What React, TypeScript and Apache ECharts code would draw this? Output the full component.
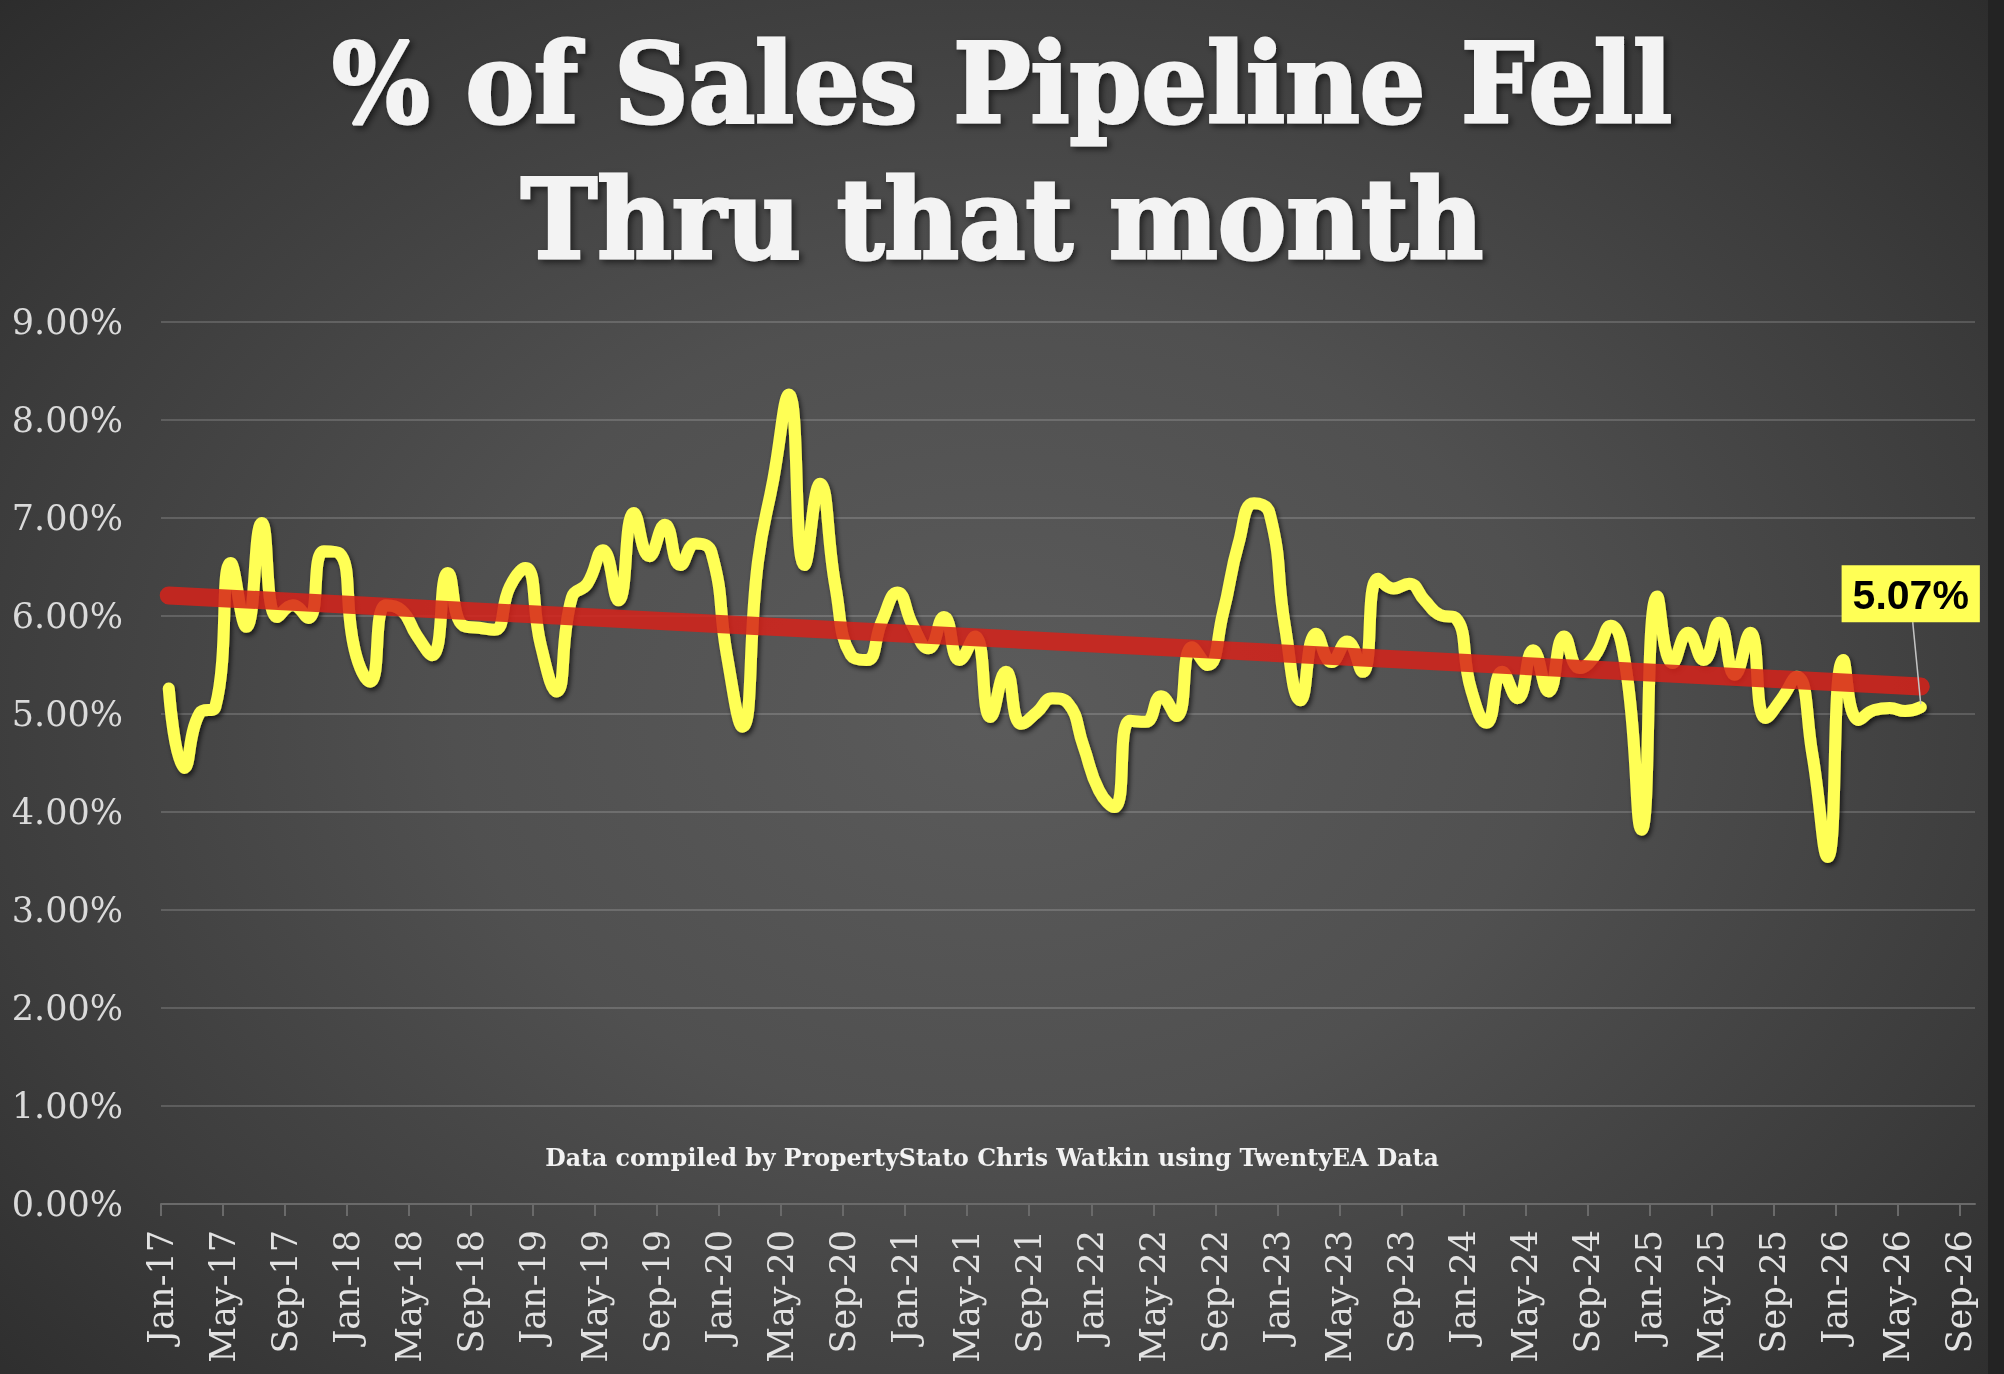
import { useEffect, useRef } from 'react';
import * as echarts from 'echarts';

// % of sales pipeline that fell through, one value per month, Jan-17 .. Jun-26
const pipelineFell: number[] = [
  5.26, 4.45, 5.01, 5.07, 6.54, 5.89, 6.95, 5.99, 6.11, 5.98, 6.66, 6.64, // 2017
  5.65, 5.33, 6.11, 6.06, 5.8, 5.6, 6.44, 5.9, 5.88, 5.86, 6.3, 6.49, // 2018
  5.7, 5.23, 6.19, 6.33, 6.67, 6.16, 7.05, 6.61, 6.93, 6.52, 6.74, 6.65, // 2019
  5.6, 4.87, 6.55, 7.4, 8.26, 6.52, 7.35, 6.3, 5.6, 5.55, 5.95, 6.24, // 2020
  5.9, 5.67, 5.99, 5.55, 5.79, 4.97, 5.43, 4.9, 5.02, 5.16, 5.11, 4.67, // 2021
  4.22, 4.05, 4.93, 4.92, 5.18, 4.98, 5.68, 5.5, 6.03, 6.74, 7.15, 7.05, // 2022
  5.89, 5.14, 5.82, 5.53, 5.74, 5.43, 6.38, 6.28, 6.33, 6.16, 6.01, 5.98, // 2023
  5.25, 4.91, 5.43, 5.16, 5.65, 5.23, 5.79, 5.47, 5.6, 5.9, 5.45, 3.82, // 2024
  6.2, 5.52, 5.83, 5.55, 5.93, 5.4, 5.83, 4.96, 5.15, 5.38, 4.6, 3.54, // 2025
  5.55, 4.94, 5.04, 5.06, 5.03, 5.07, // 2026
];

// linear trend, value at the first and at the last month
const trendValues: number[] = [6.21, 5.28];

// x axis ticks, one every 4 months from Jan-17
const xTickLabels: string[] = [
  'Jan-17', 'May-17', 'Sep-17', 'Jan-18', 'May-18', 'Sep-18',
  'Jan-19', 'May-19', 'Sep-19', 'Jan-20', 'May-20', 'Sep-20',
  'Jan-21', 'May-21', 'Sep-21', 'Jan-22', 'May-22', 'Sep-22',
  'Jan-23', 'May-23', 'Sep-23', 'Jan-24', 'May-24', 'Sep-24',
  'Jan-25', 'May-25', 'Sep-25', 'Jan-26', 'May-26', 'Sep-26',
];

const titleLines: string[] = ['% of Sales Pipeline Fell', 'Thru that month'];
const sourceNote = 'Data compiled by PropertyStato Chris Watkin using TwentyEA Data';

const SERIF = "'DejaVu Serif', serif";
const LABEL_DX = -10;
const LABEL_DY = -85;

export default function App() {
  const chartRef = useRef<HTMLDivElement>(null);

  useEffect(() => {
    if (!chartRef.current) return;
    const chart = echarts.init(chartRef.current, undefined, { renderer: 'svg' });

    // each month sits in the middle of its slot on the date axis
    const points = pipelineFell.map((v, i) => [i + 0.5, v]);
    const last = points[points.length - 1];
    const tickValues = xTickLabels.map((_, i) => i * 4);

    const graphics: any[] = [
      {
        type: 'rect',
        shape: { x: 1988, y: 0, width: 16, height: 1374 },
        style: { fill: '#232323' },
        silent: true,
      },
      ...titleLines.map((t, i) => ({
        type: 'text',
        x: 1002,
        y: 83 + i * 136,
        scaleX: 0.935,
        style: {
          text: t,
          fill: '#f3f3f3',
          stroke: '#f3f3f3',
          lineWidth: 3,
          fontFamily: SERIF,
          fontWeight: 'bold',
          fontSize: 110,
          align: 'center',
          verticalAlign: 'middle',
          textShadowColor: 'rgba(0,0,0,0.55)',
          textShadowBlur: 6,
          textShadowOffsetX: 3,
          textShadowOffsetY: 3,
        },
      })),
      {
        type: 'text',
        x: 992,
        y: 1158,
        style: {
          text: sourceNote,
          fill: '#f2f2f2',
          fontFamily: SERIF,
          fontWeight: 'bold',
          fontSize: 23.7,
          align: 'center',
          verticalAlign: 'middle',
        },
      },
    ];

    chart.setOption({
      animation: false,
      backgroundColor: 'transparent',
      grid: { left: 161, right: 29, top: 322, bottom: 170, containLabel: false },
      xAxis: {
        type: 'value',
        min: 0,
        max: 117,
        splitLine: { show: false },
        axisLine: { show: true, lineStyle: { color: '#6a6a6a', width: 2 } },
        axisTick: { show: true, length: 12, customValues: tickValues, lineStyle: { color: '#6a6a6a', width: 2 } },
        axisLabel: {
          customValues: tickValues,
          rotate: 90,
          margin: 26,
          padding: [16, 0, 0, 0],
          color: '#e2e2e2',
          fontFamily: SERIF,
          fontSize: 35,
          formatter: (v: number) => xTickLabels[Math.round(v / 4)] ?? '',
        },
      },
      yAxis: {
        type: 'value',
        min: 0,
        max: 9,
        interval: 1,
        axisLine: { show: false },
        axisTick: { show: false },
        splitLine: { lineStyle: { color: 'rgba(255,255,255,0.16)', width: 2 } },
        axisLabel: {
          margin: 38,
          color: '#dadada',
          fontFamily: SERIF,
          fontSize: 35,
          formatter: (v: number) => v.toFixed(2) + '%',
        },
      },
      graphic: graphics,
      series: [
        {
          name: 'Pipeline fell',
          type: 'line',
          data: points,
          smooth: 0.5,
          showSymbol: false,
          z: 2,
          lineStyle: {
            color: '#ffff55',
            width: 12,
            cap: 'round',
            join: 'round',
            shadowColor: 'rgba(0,0,0,0.65)',
            shadowBlur: 5,
            shadowOffsetX: 2,
            shadowOffsetY: 3,
          },
        },
        {
          name: 'Trend',
          type: 'line',
          data: [
            [points[0][0], trendValues[0]],
            [last[0], trendValues[1]],
          ],
          showSymbol: false,
          z: 3,
          lineStyle: { color: 'rgba(214,34,26,0.85)', width: 18, cap: 'round' },
        },
        {
          name: 'Latest',
          type: 'scatter',
          data: [last],
          symbolSize: 0,
          z: 5,
          itemStyle: { color: '#ffff55', opacity: 1 },
          label: {
            show: true,
            position: 'top',
            distance: 0,
            opacity: 1,
            formatter: (p: any) => p.value[1].toFixed(2) + '%',
            backgroundColor: '#ffff55',
            color: '#000',
            fontFamily: "'Liberation Sans', Arial, sans-serif",
            fontWeight: 'bold',
            fontSize: 41,
            padding: [9, 11, 7, 11],
          },
          labelLayout: { dx: LABEL_DX, dy: LABEL_DY },
        },
      ],
    });

    // thin leader line from the last point up to its label
    const [px, py] = chart.convertToPixel({ gridIndex: 0 }, last);
    chart.setOption({
      graphic: [
        ...graphics,
        {
          type: 'line',
          z: 4,
          silent: true,
          shape: { x1: px, y1: py - 3, x2: px + LABEL_DX + 2, y2: py + LABEL_DY },
          style: { stroke: '#c4c4c4', lineWidth: 1.5 },
        },
      ],
    });

    return () => {
      chart.dispose();
    };
  }, []);

  return (
    <div
      ref={chartRef}
      style={{
        position: 'fixed',
        left: 0,
        top: 0,
        width: 2004,
        height: 1374,
        background:
          'radial-gradient(ellipse 72% 78% at 50% 52%, #5b5b5b 0%, #505050 38%, #3c3c3c 72%, #2a2a2a 100%)',
      }}
    />
  );
}
